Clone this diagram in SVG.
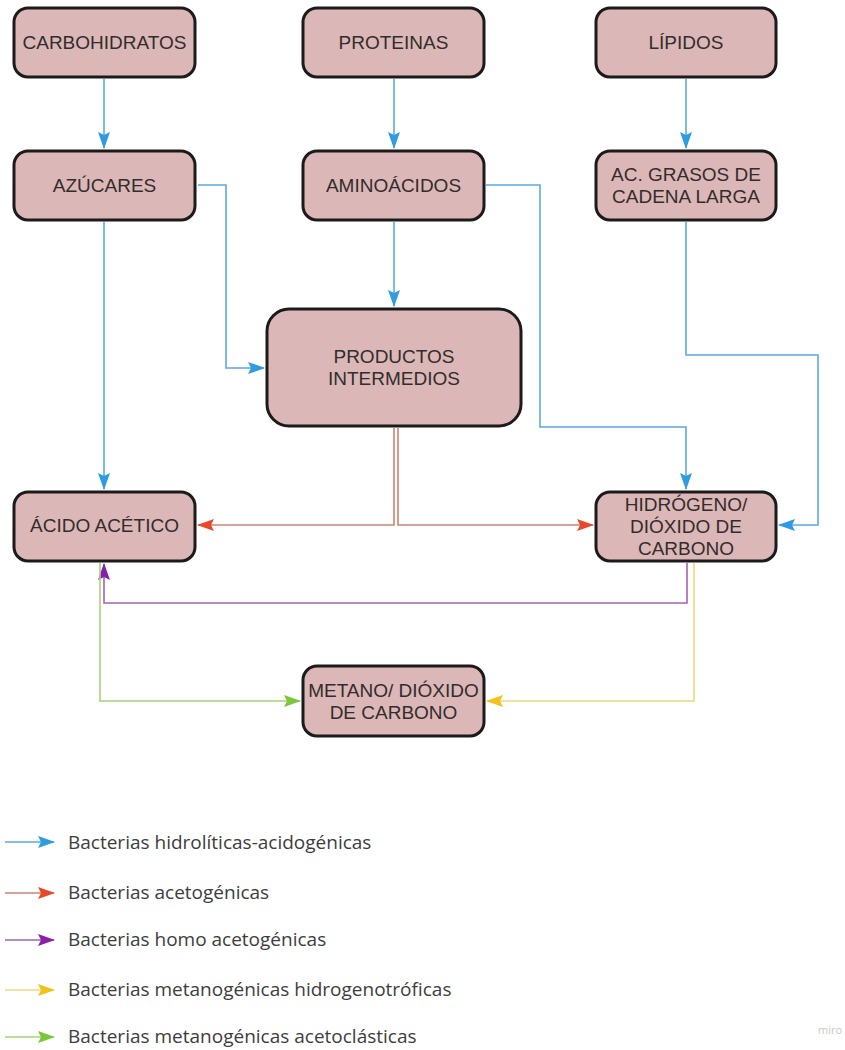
<svg xmlns="http://www.w3.org/2000/svg" width="845" height="1050" viewBox="0 0 845 1050">
<style>
.box{fill:#dbb8b7;stroke:#1c1a1a;stroke-width:3}
.t{font-family:"Liberation Sans",Arial,sans-serif;font-size:19px;fill:#332c2c;text-anchor:middle}
.c{fill:none;stroke-width:1.6}
.b{stroke:#5aaade}.r{stroke:#c98572}.p{stroke:#a263b8}.y{stroke:#efd97c}.g{stroke:#a9d27a}
.lg{font-family:"Open Sans",sans-serif;font-size:19px;fill:#3d3d3d}
</style>
<defs>
<marker id="mb" markerUnits="userSpaceOnUse" markerWidth="18" markerHeight="12" refX="16" refY="6" orient="auto"><path d="M0,0 L17,6 L0,12 L3,6 z" fill="#2f9be2"/></marker>
<marker id="mr" markerUnits="userSpaceOnUse" markerWidth="18" markerHeight="12" refX="16" refY="6" orient="auto"><path d="M0,0 L17,6 L0,12 L3,6 z" fill="#e8482c"/></marker>
<marker id="mp" markerUnits="userSpaceOnUse" markerWidth="18" markerHeight="12" refX="16" refY="6" orient="auto"><path d="M0,0 L17,6 L0,12 L3,6 z" fill="#8a1fa8"/></marker>
<marker id="my" markerUnits="userSpaceOnUse" markerWidth="18" markerHeight="12" refX="16" refY="6" orient="auto"><path d="M0,0 L17,6 L0,12 L3,6 z" fill="#f2c11c"/></marker>
<marker id="mg" markerUnits="userSpaceOnUse" markerWidth="18" markerHeight="12" refX="16" refY="6" orient="auto"><path d="M0,0 L17,6 L0,12 L3,6 z" fill="#7cc63c"/></marker>
</defs>
<rect width="845" height="1050" fill="#fff"/>
<g id="connectors">
<path class="c b" d="M104,79 V148" marker-end="url(#mb)"/>
<path class="c b" d="M394,79 V148" marker-end="url(#mb)"/>
<path class="c b" d="M686,79 V148" marker-end="url(#mb)"/>
<path class="c b" d="M198,185 H226 V368 H264" marker-end="url(#mb)"/>
<path class="c b" d="M104,222 V489" marker-end="url(#mb)"/>
<path class="c b" d="M394,222 V306" marker-end="url(#mb)"/>
<path class="c b" d="M486,185 H540 V427 H686 V489" marker-end="url(#mb)"/>
<path class="c b" d="M686,222 V355 H818 V525 H779" marker-end="url(#mb)"/>
<path class="c r" d="M394,428 V525 H198" marker-end="url(#mr)"/>
<path class="c r" d="M398,428 V525 H593" marker-end="url(#mr)"/>
<path class="c p" d="M687,563 V603 H104 V564" marker-end="url(#mp)"/>
<path class="c g" d="M100,563 V701 H300" marker-end="url(#mg)"/>
<path class="c y" d="M694,563 V701 H487" marker-end="url(#my)"/>
</g>
<g id="carbohidratos"><rect class="box" x="14" y="8" width="181" height="69" rx="14"/><text class="t" x="104.5" y="49">CARBOHIDRATOS</text></g>
<g id="proteinas"><rect class="box" x="303" y="8" width="181" height="69" rx="14"/><text class="t" x="393.5" y="49">PROTEINAS</text></g>
<g id="lipidos"><rect class="box" x="596" y="8" width="180" height="69" rx="14"/><text class="t" x="686" y="49">LÍPIDOS</text></g>
<g id="azucares"><rect class="box" x="14" y="151" width="181" height="69" rx="14"/><text class="t" x="104.5" y="192">AZÚCARES</text></g>
<g id="aminoacidos"><rect class="box" x="303" y="151" width="181" height="69" rx="14"/><text class="t" x="393.5" y="192">AMINOÁCIDOS</text></g>
<g id="acgrasos"><rect class="box" x="596" y="151" width="180" height="69" rx="14"/><text class="t" x="686" y="181">AC. GRASOS DE</text><text class="t" x="686" y="203">CADENA LARGA</text></g>
<g id="productos"><rect class="box" x="267" y="309" width="254" height="117" rx="22"/><text class="t" x="394" y="363">PRODUCTOS</text><text class="t" x="394" y="385">INTERMEDIOS</text></g>
<g id="acido"><rect class="box" x="14" y="492" width="181" height="69" rx="14"/><text class="t" x="104.5" y="532">ÁCIDO ACÉTICO</text></g>
<g id="hidrogeno"><rect class="box" x="596" y="492" width="180" height="69" rx="14"/><text class="t" x="686" y="511">HIDRÓGENO/</text><text class="t" x="686" y="533">DIÓXIDO DE</text><text class="t" x="686" y="555">CARBONO</text></g>
<g id="metano"><rect class="box" x="303" y="666" width="181" height="70" rx="14"/><text class="t" x="393.5" y="697">METANO/ DIÓXIDO</text><text class="t" x="393.5" y="719">DE CARBONO</text></g>
<g id="legend">
<path class="c b" d="M5,842 H54" marker-end="url(#mb)"/>
<path class="c r" d="M5,893 H54" marker-end="url(#mr)"/>
<path class="c p" d="M5,940 H54" marker-end="url(#mp)"/>
<path class="c y" d="M5,990 H54" marker-end="url(#my)"/>
<path class="c g" d="M5,1037 H54" marker-end="url(#mg)"/>
<text class="lg" x="68" y="849">Bacterias hidrolíticas-acidogénicas</text>
<text class="lg" x="68" y="899">Bacterias acetogénicas</text>
<text class="lg" x="68" y="946">Bacterias homo acetogénicas</text>
<text class="lg" x="68" y="996">Bacterias metanogénicas hidrogenotróficas</text>
<text class="lg" x="68" y="1043">Bacterias metanogénicas acetoclásticas</text>
</g>
<text x="818" y="1034" font-family="'Open Sans',sans-serif" font-size="11" fill="#c8c8c8">miro</text>
</svg>
